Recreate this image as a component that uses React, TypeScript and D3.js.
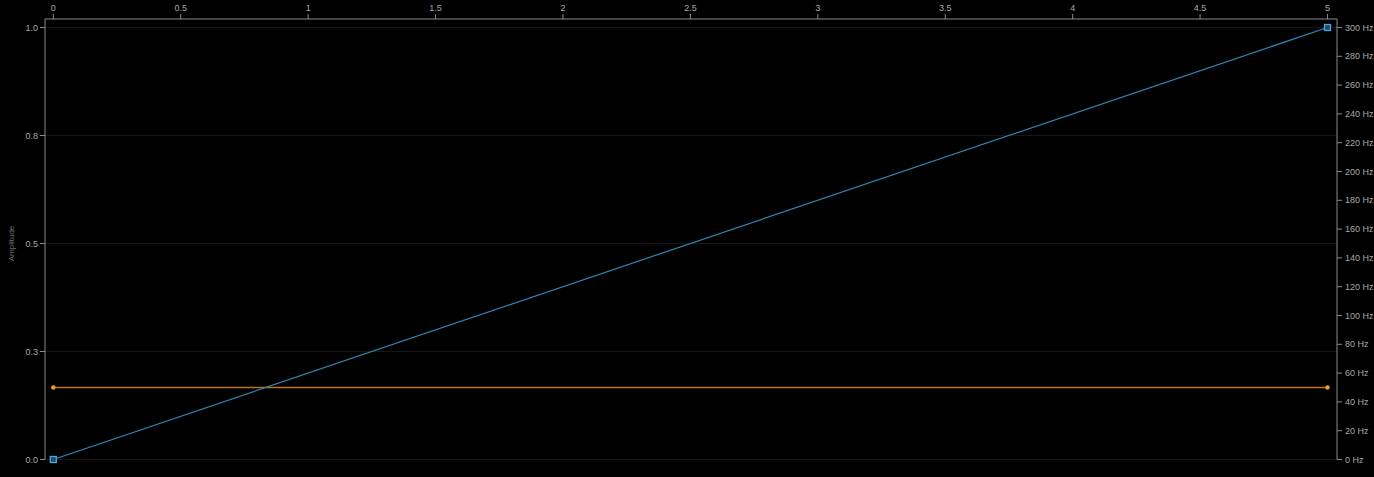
import React from "react";
import * as d3 from "d3";

const timeValues = [0, 5];
const freqValues = [0, 300];
const orangeTimes = [0, 5];
const orangeFreq = [50, 50];
const xTicks = [0, 0.5, 1, 1.5, 2, 2.5, 3, 3.5, 4, 4.5, 5];
const ampTicks = [0, 0.25, 0.5, 0.75, 1.0];
const hzTicks = [0, 20, 40, 60, 80, 100, 120, 140, 160, 180, 200, 220, 240, 260, 280, 300];

const W = 1374;
const H = 477;
const frameLeft = 45;
const frameRight = 1337;
const frameTop = 19;
const plotTop = 27.5;
const plotBottom = 459.5;

export default function App() {
  React.useEffect(() => {
    document.body.style.margin = "0";
    document.body.style.background = "#000";
  }, []);

  const x = d3.scaleLinear().domain([0, 5]).range([53.3, 1327.5]);
  const yAmp = d3.scaleLinear().domain([0, 1]).range([plotBottom, plotTop]);
  const yHz = d3.scaleLinear().domain([0, 300]).range([plotBottom, plotTop]);

  const blueData = timeValues.map((t, i) => [t, freqValues[i]] as [number, number]);
  const orangeData = orangeTimes.map((t, i) => [t, orangeFreq[i]] as [number, number]);
  const line = d3
    .line<[number, number]>()
    .x((d) => x(d[0]))
    .y((d) => yHz(d[1]));

  const axisColor = "#8a8a8a";
  const textColor = "#a8a8a8";
  const font = "Liberation Sans, Arial, sans-serif";

  return (
    <svg width={W} height={H} style={{ display: "block", background: "#000" }} fontFamily={font}>
      <rect x={0} y={0} width={W} height={H} fill="#000" />
      {/* gridlines */}
      {ampTicks.map((t) => (
        <line key={"g" + t} x1={frameLeft} x2={frameRight} y1={yAmp(t)} y2={yAmp(t)} stroke="#161616" strokeWidth={1} />
      ))}
      {/* frame: top and left/right axes */}
      <line x1={frameLeft} x2={frameRight} y1={frameTop} y2={frameTop} stroke={axisColor} strokeWidth={1} />
      <line x1={frameLeft} x2={frameLeft} y1={frameTop} y2={plotBottom} stroke={axisColor} strokeWidth={1} />
      <line x1={frameRight} x2={frameRight} y1={frameTop} y2={plotBottom} stroke={axisColor} strokeWidth={1} />
      {/* top axis ticks */}
      {xTicks.map((t) => (
        <g key={"x" + t}>
          <line x1={x(t)} x2={x(t)} y1={frameTop} y2={frameTop - 5} stroke={axisColor} />
          <text x={x(t)} y={11} textAnchor="middle" fontSize={9} fill={textColor}>
            {String(t)}
          </text>
        </g>
      ))}
      {/* left axis ticks */}
      {ampTicks.map((t) => (
        <g key={"a" + t}>
          <line x1={frameLeft - 5} x2={frameLeft} y1={yAmp(t)} y2={yAmp(t)} stroke={axisColor} />
          <text x={frameLeft - 7} y={yAmp(t) + 3} textAnchor="end" fontSize={9} fill={textColor}>
            {d3.format(".1f")(t)}
          </text>
        </g>
      ))}
      {/* right axis ticks */}
      {hzTicks.map((t) => (
        <g key={"h" + t}>
          <line x1={frameRight} x2={frameRight + 5} y1={yHz(t)} y2={yHz(t)} stroke={axisColor} />
          <text x={frameRight + 8} y={yHz(t) + 3} textAnchor="start" fontSize={9} fill={textColor}>
            {t + " Hz"}
          </text>
        </g>
      ))}
      {/* y label */}
      <text
        transform={`translate(14, ${(plotTop + plotBottom) / 2}) rotate(-90)`}
        textAnchor="middle"
        fontSize={8}
        fill="#707070"
      >
        Amplitude
      </text>
      {/* orange series */}
      <path d={line(orangeData) || ""} fill="none" stroke="#b8741c" strokeWidth={1.5} />
      {orangeData.map((d, i) => (
        <circle key={"o" + i} cx={x(d[0])} cy={yHz(d[1])} r={2.2} fill="#e8a020" />
      ))}
      {/* blue series */}
      <path d={line(blueData) || ""} fill="none" stroke="#2f87b8" strokeWidth={1.2} />
      {blueData.map((d, i) => (
        <rect
          key={"b" + i}
          x={x(d[0]) - 3}
          y={yHz(d[1]) - 3}
          width={6}
          height={6}
          fill="#1d4c6b"
          stroke="#4aa5dc"
          strokeWidth={1.3}
        />
      ))}
    </svg>
  );
}
